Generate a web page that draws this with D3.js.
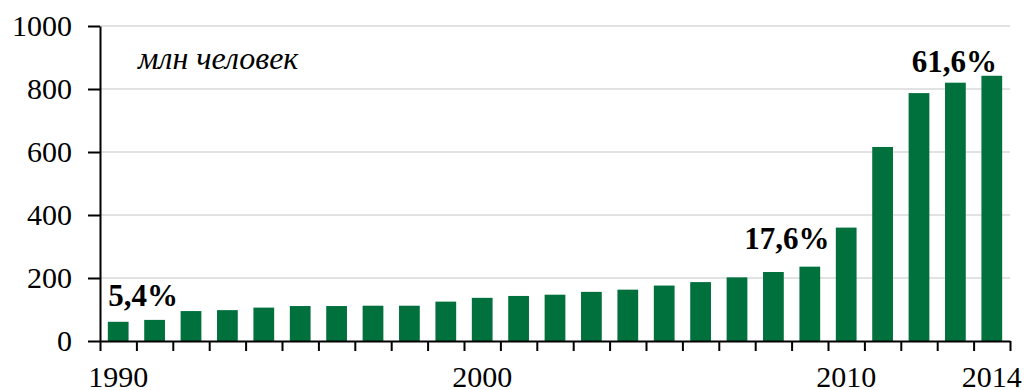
<!DOCTYPE html>
<html>
<head>
<meta charset="utf-8">
<script src="https://cdn.jsdelivr.net/npm/d3@7"></script>
<style>
  html, body { margin: 0; padding: 0; background: #fff; }
  svg { display: block; }
  text { font-family: "Liberation Serif", "Times New Roman", serif; fill: #000; }
</style>
</head>
<body>
<svg id="chart" width="1026" height="390"></svg>
<script>
const years = [1990,1991,1992,1993,1994,1995,1996,1997,1998,1999,2000,2001,2002,2003,2004,2005,2006,2007,2008,2009,2010,2011,2012,2013,2014];
const values = [61,67,95,98,106,111,111,112,112,125,137,143,147,156,163,176,187,202,219,236,360,616,787,820,842];
const yTicks = [0,200,400,600,800,1000];
const xLabelYears = [1990,2000,2010,2014];
const noteYears = [1990,2009,2013];
const noteTexts = ["5,4%","17,6%","61,6%"];
const unitLabel = "млн человек";

const svg = d3.select("#chart");
const margin = {left: 100, right: 16, top: 26, bottom: 49};
const W = 1026, H = 390;
const x0 = margin.left, x1 = W - margin.right, y0 = H - margin.bottom, y1 = margin.top;

const x = d3.scaleBand().domain(years).range([x0, x1]).paddingInner(0.43).paddingOuter(0.215);
const xEdge = d3.scaleLinear().domain([years[0], years[years.length-1] + 1]).range([x0, x1]);
const y = d3.scaleLinear().domain([0, 1000]).range([y0, y1]);

// gridlines
svg.append("g").selectAll("line").data(yTicks.filter(d => d > 0)).join("line")
  .attr("x1", x0).attr("x2", x1)
  .attr("y1", d => y(d)).attr("y2", d => y(d))
  .attr("stroke", "#d9d9d9").attr("stroke-width", 1.5);

// bars
svg.append("g").selectAll("rect").data(years).join("rect")
  .attr("x", d => x(d))
  .attr("width", x.bandwidth())
  .attr("y", (d, i) => y(values[i]))
  .attr("height", (d, i) => y(0) - y(values[i]))
  .attr("fill", "#00703d");

// y axis
const yAxis = svg.append("g").attr("transform", `translate(${x0},0)`)
  .call(d3.axisLeft(y).tickValues(yTicks).tickFormat(d3.format("d")).tickSize(12).tickSizeOuter(0).tickPadding(16));
yAxis.attr("font-family", null).attr("font-size", null);
yAxis.select(".domain").attr("stroke", "#000").attr("stroke-width", 2);
yAxis.selectAll(".tick line").attr("stroke", "#000").attr("stroke-width", 2);
yAxis.selectAll("text").style("font-size", "30px");

// x axis (boundary ticks)
const edges = d3.range(years[0], years[years.length-1] + 2);
const xAxis = svg.append("g").attr("transform", `translate(0,${y0})`)
  .call(d3.axisBottom(xEdge).tickValues(edges).tickSize(10).tickSizeOuter(0).tickFormat(""));
xAxis.select(".domain").attr("stroke", "#000").attr("stroke-width", 2);
xAxis.selectAll(".tick line").attr("stroke", "#000").attr("stroke-width", 2);

// x labels
const xLab = svg.append("g").attr("transform", `translate(0,${y0})`)
  .call(d3.axisBottom(x).tickValues(xLabelYears).tickSize(0).tickPadding(25));
xLab.attr("font-family", null).attr("font-size", null);
xLab.select(".domain").remove();
xLab.selectAll("text").style("font-size", "30px");

// annotations
const noteDx = [25, -23, -1];
const noteDy = [-16, -18, -11];
svg.append("g").selectAll("text").data(noteYears).join("text")
  .attr("x", (d, i) => x(d) + x.bandwidth() / 2 + noteDx[i])
  .attr("y", (d, i) => y(values[years.indexOf(d)]) + noteDy[i])
  .attr("text-anchor", "middle")
  .style("font-size", "31px").style("font-weight", "bold")
  .text((d, i) => noteTexts[i]);

// unit label
svg.append("text").attr("x", 138).attr("y", 69)
  .style("font-size", "32px").style("font-style", "italic")
  .text(unitLabel);
</script>
</body>
</html>
